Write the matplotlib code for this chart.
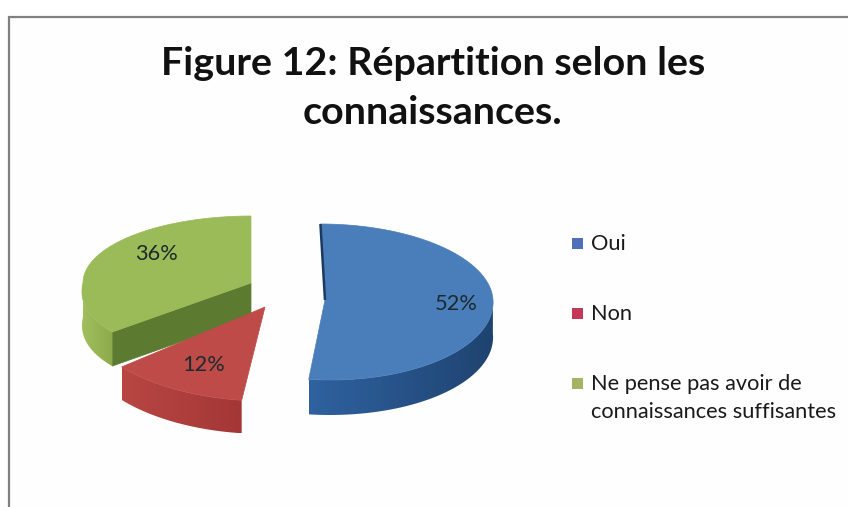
import numpy as np
import matplotlib
matplotlib.use("Agg")
import matplotlib.pyplot as plt
from matplotlib.colors import LinearSegmentedColormap
from matplotlib.patches import Polygon, Rectangle

# ---- data ----
categories = ["Oui", "Non", "Ne pense pas avoir de\nconnaissances suffisantes"]
shares = [52, 12, 36]
title_text = "Figure 12: Répartition selon les\nconnaissances."

# ---- layout (pixel space of the 848x507 canvas) ----
W, H = 848, 507
centers = [(325, 300), (265, 307), (251, 283)]
radius_x = [168, 186, 168]
radius_back = [76, 80, 67]
radius_front = [80, 94, 77]
flare = [0, 0, 19]        # perspective widening towards the viewer
skew = [0.06, 0, 0]       # perspective lean of the slice
depths = [35, 33, 34]
label_frac = [(0.78, 0.78), (0.69, 0.71), (0.62, 1.00)]
top_cols = ["#4A7EBB", "#BE4B48", "#9BBB59"]
wall_dark = ["#1F4370", "#A33735", "#8CAA48"]
wall_light = ["#2F62A0", "#B84643", "#A2BF60"]
cut_cols = ["#1C3A60", "#8E2F2D", "#5C7A30"]
legend_cols = ["#4F6FB8", "#C23A58", "#A3B565"]
text_col = "#1A1A1A"
font = "Lato"

fig = plt.figure(figsize=(W / 100, H / 100), dpi=100, facecolor="white")
ax = fig.add_axes([0, 0, 1, 1])
ax.set_xlim(0, W)
ax.set_ylim(H, 0)
ax.axis("off")

ax.add_patch(Rectangle((8.5, 16.5), W + 20, H + 20, fc="#FEFEFE", ec="#808080", lw=1.6, zorder=0))


def arc(i, theta):
    """theta: degrees clockwise from 12 o'clock."""
    t = np.radians(theta)
    cx, cy = centers[i]
    c = np.cos(t)
    ry = np.where(c >= 0, radius_back[i], radius_front[i])
    rx = radius_x[i] - flare[i] * np.minimum(c, 0)
    y = cy - ry * c
    return cx + rx * np.sin(t) + skew[i] * (y - cy), y


edges = np.cumsum([0] + shares) / sum(shares) * 360
draw_order = [2, 1, 0]

for i in draw_order:
    a0, a1 = edges[i], edges[i + 1]
    th = np.linspace(a0, a1, 161)
    xs, ys = arc(i, th)
    cx, cy = centers[i]
    d = depths[i]
    z = 2 + (2 - i)

    # cut face at the start of the slice (visible on the green one)
    if i == 2:
        xe, ye = arc(i, a0)
        ax.add_patch(Polygon([(cx, cy), (xe, ye), (xe, ye + d), (cx, cy + d)],
                             fc=cut_cols[i], ec=cut_cols[i], lw=0.5, zorder=z))

    # outer wall: one clipped gradient over the visible (front) part of the arc
    front = np.cos(np.radians(th)) <= 0.02
    xf, yf = xs[front], ys[front]
    wall = Polygon(np.column_stack([np.r_[xf, xf[::-1]], np.r_[yf, yf[::-1] + d]]),
                   fc="none", ec="none", transform=ax.transData)
    ax.add_patch(wall)
    cmap = LinearSegmentedColormap.from_list("wall", [wall_light[i], wall_dark[i]])
    im = ax.imshow(np.linspace(0, 1, 256)[None, :], cmap=cmap, aspect="auto",
                   extent=(xf.min(), xf.max(), yf.max() + d, yf.min()), zorder=z + 0.1)
    im.set_clip_path(wall)

    # top face
    ax.add_patch(Polygon(np.column_stack([np.r_[cx, xs], np.r_[cy, ys]]),
                         fc=top_cols[i], ec=top_cols[i], lw=0.5, zorder=z + 0.2))

    # dark rim of the opening edge on the blue slice
    if i == 0:
        xb, yb = arc(i, a0)
        ax.plot([xb, cx], [yb, cy], color=cut_cols[i], lw=1.8,
                solid_capstyle="butt", zorder=z + 0.3)

    # percentage label
    mid = np.radians((a0 + a1) / 2)
    fx, fy = label_frac[i]
    c = np.cos(mid)
    ry = radius_back[i] if c >= 0 else radius_front[i]
    ax.text(cx + radius_x[i] * np.sin(mid) * fx, cy - ry * c * fy,
            f"{shares[i]}%", ha="center", va="center", fontsize=15.7,
            family=font, color="#1C2A30", zorder=8)

ax.set_xlim(0, W)
ax.set_ylim(H, 0)

# title
ax.text(433, 88, title_text, ha="center", va="center", fontsize=28.4, fontweight="bold",
        family=font, color="#111111", linespacing=1.46, zorder=8)

# legend
legend_y = [243, 313, 383]
for name, col, y in zip(categories, legend_cols, legend_y):
    ax.add_patch(Rectangle((572, y - 5.5), 11, 11, fc=col, ec="none", zorder=8))
    ax.text(591, y - 9, name, ha="left", va="top", fontsize=15.7, family=font,
            color=text_col, linespacing=1.48, zorder=8)

fig.savefig("out.png", dpi=100)
